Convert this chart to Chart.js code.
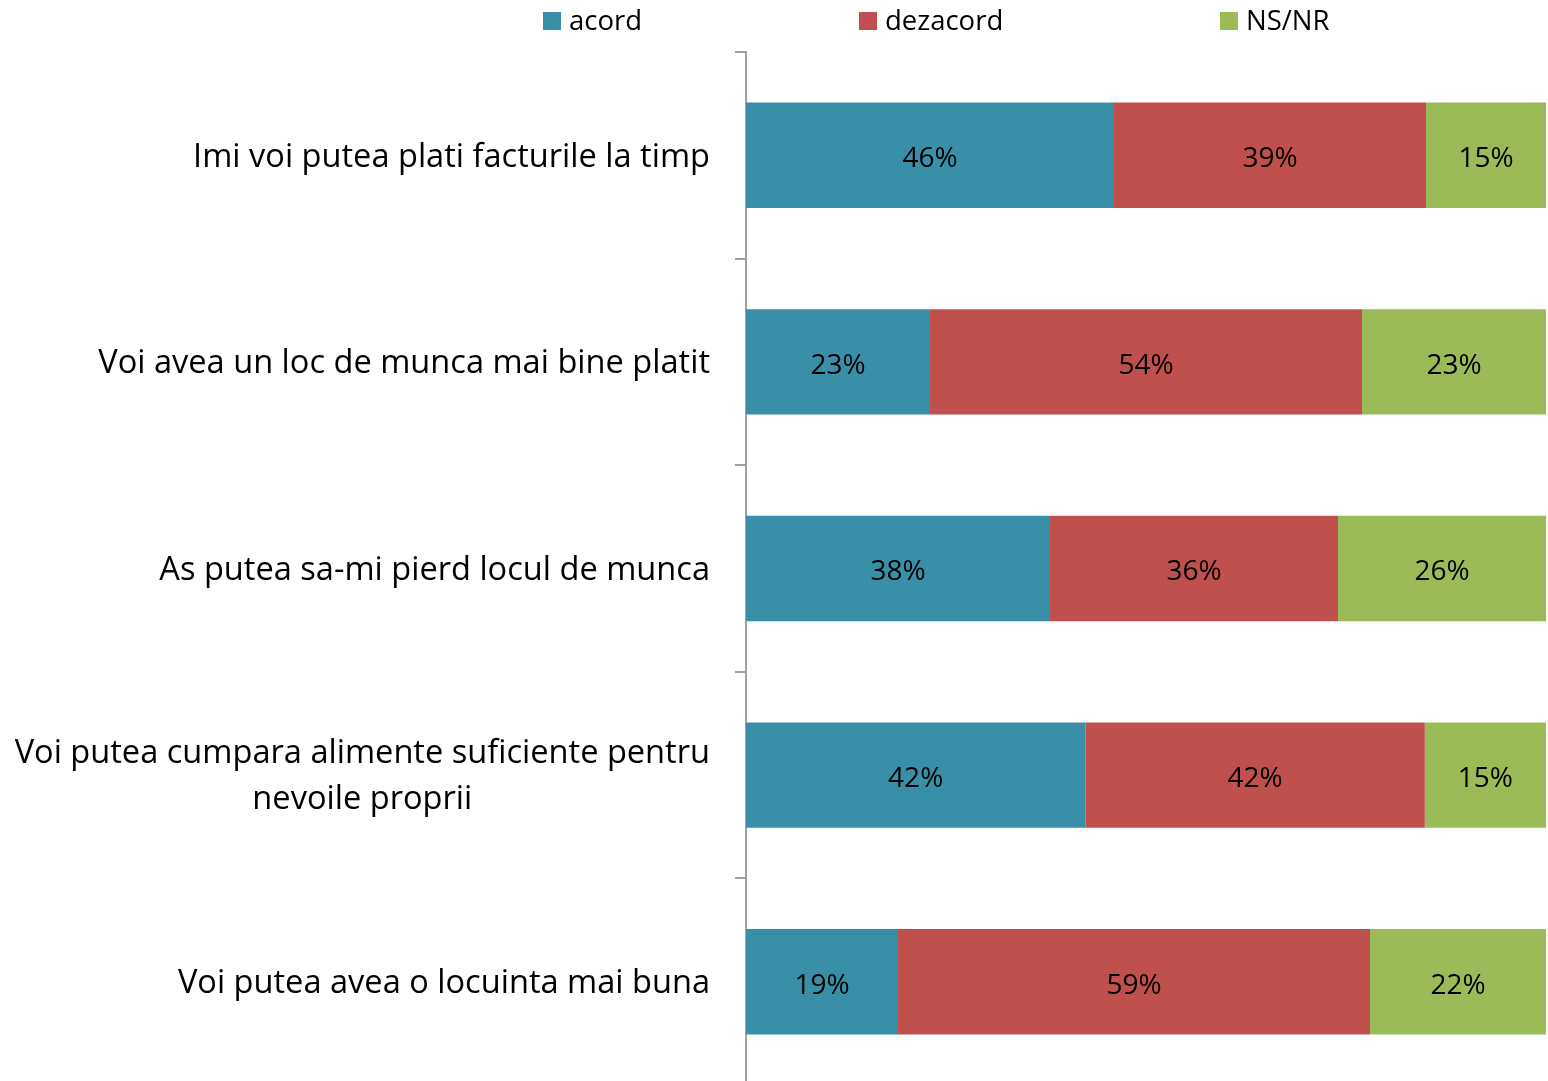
<!DOCTYPE html>
<html>
<head>
<meta charset="utf-8">
<script src="https://cdn.jsdelivr.net/npm/chart.js@4"></script>
<style>
  html, body { margin: 0; padding: 0; background: #fff; overflow: hidden; }
  canvas { display: block; }
</style>
</head>
<body>
<canvas id="chart" width="1548" height="1085"></canvas>
<script>
// Date
const categories = [
    ['Imi voi putea plati facturile la timp'],
    ['Voi avea un loc de munca mai bine platit'],
    ['As putea sa-mi pierd locul de munca'],
    ['Voi putea cumpara alimente suficiente pentru', 'nevoile proprii'],
    ['Voi putea avea o locuinta mai buna']
];
const seriesNames = ['acord', 'dezacord', 'NS/NR'];
const acord = [46, 23, 38, 42, 19];
const dezacord = [39, 54, 36, 42, 59];
const nsnr = [15, 23, 26, 15, 22];

const colors = ['#3A8FA8', '#C0504D', '#9BBB59'];
const legendX = [543, 859, 1220];
const FONT = "'Open Sans', 'Noto Sans', sans-serif";

// 100% stacked: fiecare rand normalizat la total
const raw = [acord, dezacord, nsnr];
const totals = acord.map((v, i) => acord[i] + dezacord[i] + nsnr[i]);
const shares = raw.map(s => s.map((v, i) => v / totals[i] * 100));

// Etichete categorii (text centrat pe linii, bloc aliniat la dreapta)
const categoryLabels = {
    id: 'categoryLabels',
    afterDraw(chart) {
        const ctx = chart.ctx;
        const y = chart.scales.y;
        const right = 710;
        const lh = 46;
        ctx.save();
        ctx.font = '32.6px ' + FONT;
        ctx.fillStyle = '#000';
        ctx.textBaseline = 'middle';
        ctx.textAlign = 'center';
        categories.forEach((lines, i) => {
            const cy = y.getPixelForValue(i) + 2;
            const w = Math.max(...lines.map(l => ctx.measureText(l).width));
            const cx = right - w / 2;
            const y0 = cy - (lines.length - 1) * lh / 2;
            lines.forEach((l, k) => ctx.fillText(l, cx, y0 + k * lh));
        });
        ctx.restore();
    }
};

// Valori in interiorul barelor
const valueLabels = {
    id: 'valueLabels',
    afterDatasetsDraw(chart) {
        const ctx = chart.ctx;
        ctx.save();
        ctx.font = '28px ' + FONT;
        ctx.fillStyle = '#000';
        ctx.textAlign = 'center';
        ctx.textBaseline = 'middle';
        chart.data.datasets.forEach((ds, d) => {
            chart.getDatasetMeta(d).data.forEach((el, i) => {
                const p = el.getCenterPoint();
                ctx.fillText(raw[d][i] + '%', p.x, p.y + 4);
            });
        });
        ctx.restore();
    }
};

// Legenda
const topLegend = {
    id: 'topLegend',
    afterDraw(chart) {
        const ctx = chart.ctx;
        ctx.save();
        ctx.font = '27.5px ' + FONT;
        ctx.textBaseline = 'middle';
        ctx.textAlign = 'left';
        chart.data.datasets.forEach((ds, d) => {
            ctx.fillStyle = ds.backgroundColor;
            ctx.fillRect(legendX[d], 12, 18, 18);
            ctx.fillStyle = '#000';
            ctx.fillText(ds.label, legendX[d] + 26, 22);
        });
        ctx.restore();
    }
};

new Chart(document.getElementById('chart'), {
    type: 'bar',
    data: {
        labels: categories,
        datasets: seriesNames.map((name, d) => ({
            label: name,
            data: shares[d],
            backgroundColor: colors[d],
            borderWidth: 0,
            categoryPercentage: 1,
            barPercentage: 0.51
        }))
    },
    options: {
        indexAxis: 'y',
        responsive: false,
        animation: false,
        devicePixelRatio: 1,
        layout: { padding: { top: 52, right: 2, left: 0, bottom: 0 } },
        scales: {
            x: { stacked: true, min: 0, max: 100, display: false },
            y: {
                stacked: true,
                afterFit: s => { s.width = 746; },
                ticks: { display: false },
                grid: { drawOnChartArea: false, drawTicks: true, tickLength: 11, color: '#A0A0A0', lineWidth: 2 },
                border: { color: '#A0A0A0', width: 2 }
            }
        },
        plugins: {
            legend: { display: false },
            tooltip: { enabled: false }
        }
    },
    plugins: [categoryLabels, valueLabels, topLegend]
});
</script>
</body>
</html>
